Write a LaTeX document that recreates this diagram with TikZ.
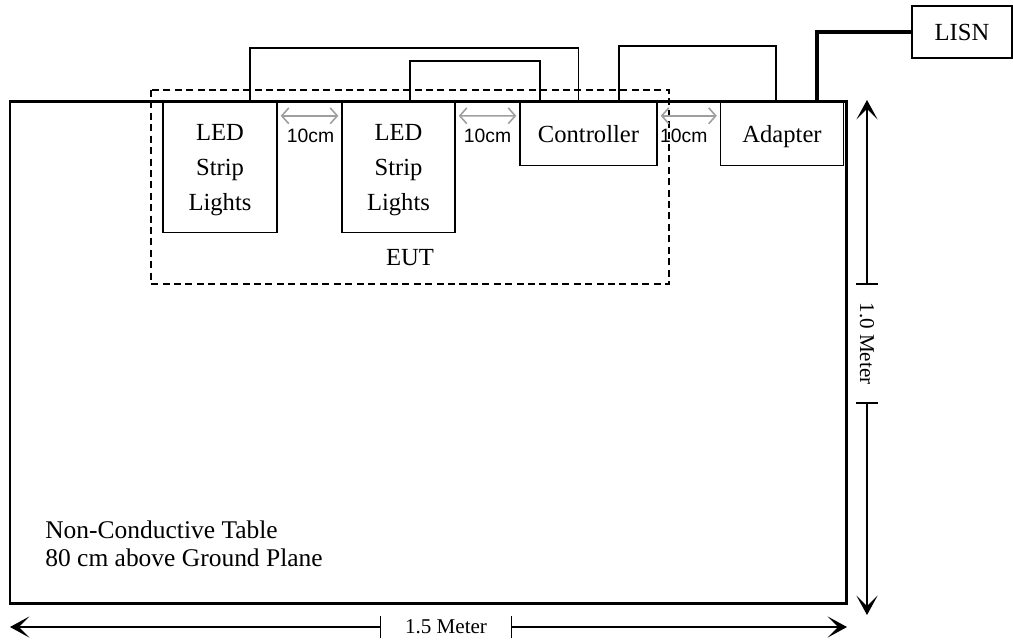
\documentclass[tikz,border=0pt]{standalone}
\usepackage{fontspec}
\setmainfont{Liberation Serif}
\newfontfamily\labelsans{Liberation Sans}
\usetikzlibrary{arrows.meta,calc}
\tikzset{
  box/.style={draw, line width=0.8pt, align=center, inner sep=0pt, text depth=0pt,
    font=\fontsize{14}{19.8}\selectfont},
  wire/.style={line width=0.8pt},
  powerwire/.style={line width=1.8pt},
  gaparrow/.style={gray!75, line width=0.9pt,
    {Straight Barb[length=4pt,width=9pt]}-{Straight Barb[length=4pt,width=9pt]}},
  gaplabel/.style={inner sep=0pt, font=\labelsans\fontsize{11}{13}\selectfont},
  dimline/.style={line width=0.8pt,
    {Bar[width=12pt]}-{Stealth[length=11pt,width=12pt,inset=6pt]}},
  dimlabel/.style={inner ysep=0pt, font=\fontsize{12}{14}\selectfont}
}
\begin{document}
\begin{tikzpicture}[x=0.02cm, y=-0.02cm]
\useasboundingbox (0,0) rectangle (1013,640);

\draw[line width=1.7pt] (10,101) rectangle (846,603);
\draw[line width=0.8pt, dash pattern=on 4pt off 2.5pt] (151,90) rectangle (669,284);

\node[box, minimum width=2.28cm, minimum height=2.6cm] (led1) at (220,167.5) {LED\\Strip\\Lights};
\node[box, minimum width=2.26cm, minimum height=2.6cm] (led2) at (398.5,167.5) {LED\\Strip\\Lights};
\node[box, minimum width=2.74cm, minimum height=1.26cm] (ctrl) at (588.5,134) {Controller};
\node[box, minimum width=2.46cm, minimum height=1.26cm] (adp) at (782,134) {Adapter};
\node[box, minimum width=2.0cm, minimum height=1.04cm] (lisn) at (962,32) {LISN};
\node[font=\fontsize{14}{16}\selectfont] (eut) at (410,258) {EUT};

\draw[wire] ($(led1.north)+(30,0)$) -- ++(0,-54) -| ($(ctrl.north)+(-10,0)$);
\draw[wire] ($(led2.north)+(11.5,0)$) -- ++(0,-41) -| ($(ctrl.north)+(-48.5,0)$);
\draw[wire] ($(ctrl.north)+(30.5,0)$) -- ++(0,-56) -| ($(adp.north)+(-6,0)$);
\draw[powerwire] ($(adp.north)+(35,0)$) |- (lisn.west);

\draw[gaparrow] ($(led1.north east)+(3,14)$) -- ($(led2.north west)+(-3,14)$);
\draw[gaparrow] ($(led2.north east)+(3,14)$) -- ($(ctrl.north west)+(-3,14)$);
\draw[gaparrow] ($(ctrl.north east)+(3,14)$) -- ($(adp.north west)+(-3,14)$);
\node[gaplabel] (gap1) at ($(led1.north east)!.5!(led2.north west)+(1,34)$) {10cm};
\node[gaplabel] (gap2) at ($(led2.north east)!.5!(ctrl.north west)+(0,34)$) {10cm};
\node[gaplabel] (gap3) at ($(ctrl.north east)!.5!(adp.north west)+(-5,34)$) {10cm};

\node[anchor=south west, align=left, inner sep=0pt, font=\fontsize{14.5}{16}\selectfont]
  (tabletext) at (45,567) {Non-Conductive Table\\80 cm above Ground Plane};

\node[dimlabel, inner xsep=13.5pt] (wlab) at (446,627) {1.5 Meter};
\coordinate (wleft) at (10,627);
\coordinate (wright) at (847,627);
\draw[dimline] (wlab.west) -- (wleft);
\draw[dimline] (wlab.east) -- (wright);

\node[dimlabel, inner xsep=10pt, rotate=-90] (hlab) at (867,343.5) {1.0 Meter};
\coordinate (htop) at (867,100);
\coordinate (hbottom) at (867,615);
\draw[dimline] (hlab.west) -- (htop);
\draw[dimline] (hlab.east) -- (hbottom);
\end{tikzpicture}
\end{document}
